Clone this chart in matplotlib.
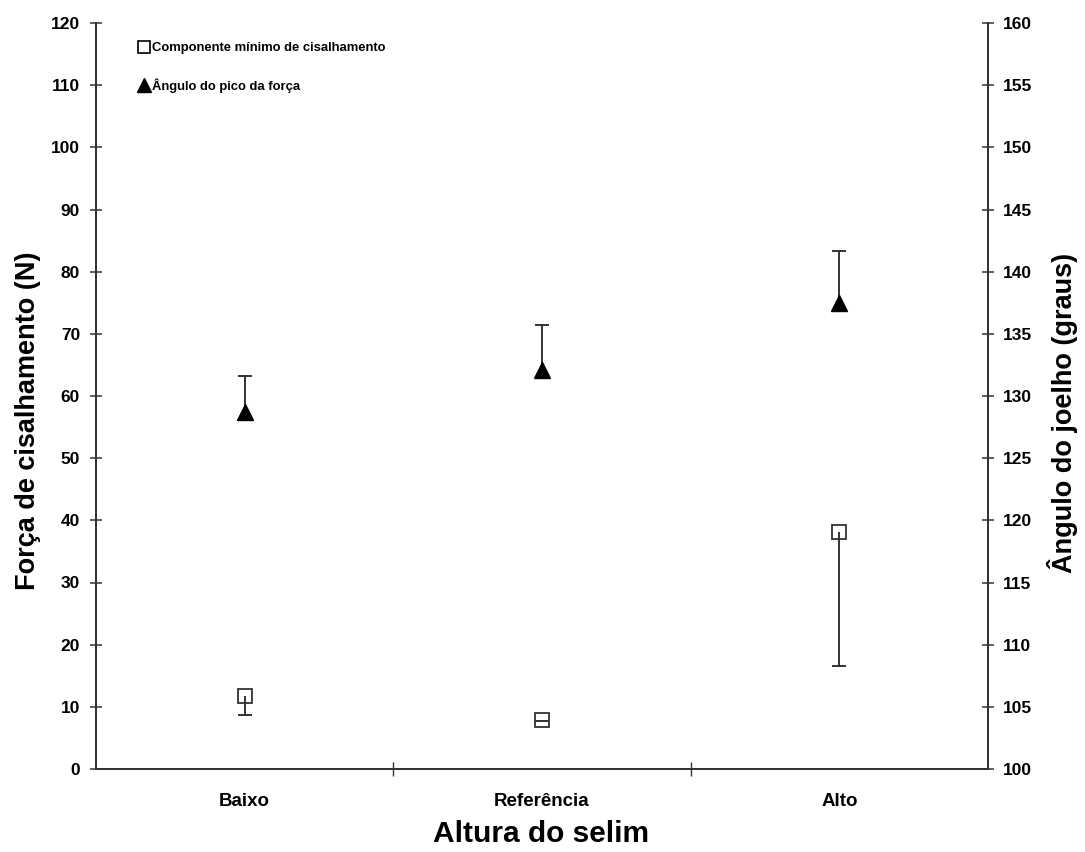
import matplotlib
matplotlib.use("Agg")
import matplotlib.pyplot as plt
from matplotlib.lines import Line2D
from matplotlib import font_manager
import numpy as np

categories = ["Baixo", "Referência", "Alto"]
shear = [11.8, 7.9, 38.1]
shear_err_low = [3.1, 0.2, 21.6]
angle = [128.7, 132.1, 137.5]
angle_err_up = [2.9, 3.6, 4.2]
left_ticks = list(range(0, 121, 10))
right_ticks = list(range(100, 161, 5))

plt.rcParams['font.family'] = ['Liberation Sans', 'DejaVu Sans']

names = {f.name for f in font_manager.fontManager.ttflist}
if 'Liberation Sans Narrow' in names:
    leg_family, leg_size = ['Liberation Sans Narrow', 'Liberation Sans'], 11.5
else:
    leg_family, leg_size = ['Liberation Sans', 'DejaVu Sans'], 9.4

W, H = 1085, 852
fig = plt.figure(figsize=(10.85, 8.52), dpi=100)
ax = fig.add_axes([96/W, 83/H, 892/W, 746/H])
ax2 = ax.twinx()

def ax_coords(px, py):
    return ((px - 96) / 892, (H - py - 83) / 746)

x = np.arange(len(categories))
ecol = '#333333'

shear_low = np.array(shear) - np.array(shear_err_low)
angle_up = np.array(angle) + np.array(angle_err_up)

ax.vlines(x, shear_low, shear, colors=ecol, linewidth=1.4, zorder=2)
ax.plot(x, shear_low, linestyle='none', marker='_', markersize=10,
        markeredgewidth=1.4, color=ecol, zorder=2)
ax.plot(x, shear, linestyle='none', marker='s', markersize=10,
        markerfacecolor='none', markeredgecolor=ecol, markeredgewidth=1.3, zorder=3)

ax2.vlines(x, angle, angle_up, colors=ecol, linewidth=1.4, zorder=2)
ax2.plot(x, angle_up, linestyle='none', marker='_', markersize=10,
         markeredgewidth=1.4, color=ecol, zorder=2)
ax2.plot(x, angle, linestyle='none', marker='^', markersize=12,
         markerfacecolor='black', markeredgecolor='black', zorder=3)

ax.set_xlim(-0.5, 2.5)
ax.set_ylim(0, 120)
ax2.set_ylim(100, 160)
ax.set_yticks(left_ticks)
ax2.set_yticks(right_ticks)
ax.set_xticks(x)
ax.set_xticklabels(categories, fontsize=13.5, fontweight='bold')
ax.set_xticks([0.5, 1.5], minor=True)
ax.tick_params(axis='x', which='major', length=0, pad=17)
ax.tick_params(axis='x', which='minor', direction='inout', length=10, width=1, color='#333333')

for a in (ax, ax2):
    a.spines['top'].set_visible(False)
    for s in a.spines.values():
        s.set_linewidth(1.3)
        s.set_color('#333333')
ax.tick_params(axis='y', direction='inout', length=9, width=1.1, color='#333333',
               labelsize=12.5, pad=7)
ax2.tick_params(axis='y', direction='inout', length=9, width=1.1, color='#333333',
                labelsize=12.5, pad=6)
for lab in ax.get_yticklabels() + ax2.get_yticklabels():
    lab.set_fontweight('bold')

ax.set_ylabel("Força de cisalhamento (N)", fontsize=19.5, fontweight='bold')
ax2.set_ylabel("Ângulo do joelho (graus)", fontsize=19.5, fontweight='bold')
ax.set_xlabel("Altura do selim", fontsize=21.5, fontweight='bold')
for lab in (ax.yaxis.label, ax2.yaxis.label, ax.xaxis.label):
    lab.set_va('center')
    lab.set_ha('center')
ax.yaxis.set_label_coords(*ax_coords(28, 421))
ax2.yaxis.set_label_coords(*ax_coords(1063, 413))
ax.xaxis.set_label_coords(*ax_coords(541, 834))

handles = [
    Line2D([], [], linestyle='none', marker='s', markersize=8, markerfacecolor='none',
           markeredgecolor='black', markeredgewidth=1.2),
    Line2D([], [], linestyle='none', marker='^', markersize=10, markerfacecolor='black',
           markeredgecolor='black'),
]
labels = ["Componente mínimo de cisalhamento", "Ângulo do pico da força"]
leg = ax2.legend(handles, labels, loc='upper left', bbox_to_anchor=(0.036, 0.99),
                 frameon=False, prop={'family': leg_family, 'size': leg_size, 'weight': 'bold'},
                 handlelength=0.6, handletextpad=0.3, labelspacing=1.85)

fig.savefig("out.png", dpi=100, facecolor='white')
